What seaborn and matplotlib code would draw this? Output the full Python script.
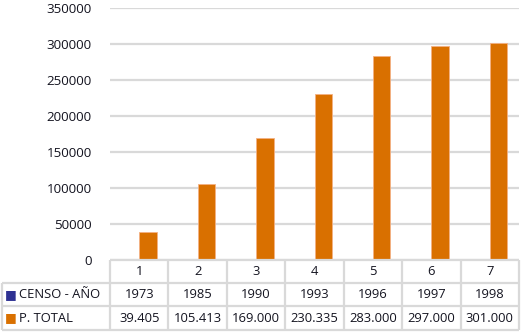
import matplotlib
matplotlib.use("Agg")
import matplotlib.pyplot as plt
import matplotlib.transforms as mtransforms
import numpy as np
import pandas as pd
import seaborn as sns

# datos del grafico
categorias = ["1", "2", "3", "4", "5", "6", "7"]
censo_anio = [1973, 1985, 1990, 1993, 1996, 1997, 1998]
p_total = [39405, 105413, 169000, 230335, 283000, 297000, 301000]
etiquetas_total = ["39.405", "105.413", "169.000", "230.335", "283.000", "297.000", "301.000"]
series = ["CENSO - AÑO", "P. TOTAL"]
colores = ["#2e3192", "#d97000"]

df = pd.DataFrame({
    "categoria": categorias * 2,
    "serie": [series[0]] * 7 + [series[1]] * 7,
    "valor": censo_anio + p_total,
})

sns.set_theme(style="white")
plt.rcParams["font.family"] = ["Open Sans", "DejaVu Sans"]
txt_color = "#141420"
grid_color = "#d9d9d9"

W, H = 524, 334
fig = plt.figure(figsize=(W / 100, H / 100), dpi=100)
# plot area in pixels: x 110..519, y 8..260
ax = fig.add_axes([110 / W, (H - 260) / H, 409 / W, 252 / H])

sns.barplot(data=df, x="categoria", y="valor", hue="serie", hue_order=series,
            palette=colores, width=0.6, gap=0, ax=ax, legend=False,
            edgecolor="#f4b183", linewidth=0.6, saturation=1)

ax.set_ylim(0, 350000)
ax.set_yticks(np.arange(0, 350001, 50000))
ax.set_yticklabels([str(v) for v in range(0, 350001, 50000)], fontsize=9.6, color=txt_color)
ax.tick_params(axis="y", length=0, pad=13)
ax.set_xticks([])
ax.set_xlabel("")
ax.set_ylabel("")
ax.set_xlim(-0.5, 6.5)
for s in ax.spines.values():
    s.set_visible(False)
ax.yaxis.grid(True, color=grid_color, linewidth=1.6)
ax.set_axisbelow(True)

# tabla de datos debajo del grafico
def py(p):
    return (260 - p) / 252

def px(p):
    return (p - 110) / 409

tr = ax.transAxes
bt = mtransforms.blended_transform_factory(ax.transData, ax.transAxes)
lkw = dict(color=grid_color, linewidth=1.6, clip_on=False, solid_capstyle="butt")

ax.plot([0, 1], [py(260), py(260)], transform=tr, **lkw)
for yy in [283, 306, 330]:
    ax.plot([px(2), 1], [py(yy), py(yy)], transform=tr, **lkw)
ax.plot([px(2), px(2)], [py(283), py(330)], transform=tr, **lkw)
for i in range(len(categorias) + 1):
    ax.plot([i - 0.5, i - 0.5], [py(260), py(330)], transform=bt, **lkw)

fs = 9.4
for i, c in enumerate(categorias):
    ax.text(i, py(271.5), c, transform=bt, ha="center", va="center", fontsize=fs, color=txt_color)
    ax.text(i, py(294.5), str(censo_anio[i]), transform=bt, ha="center", va="center", fontsize=fs, color=txt_color)
    ax.text(i, py(318), etiquetas_total[i], transform=bt, ha="center", va="center", fontsize=fs, color=txt_color)

for k, (nombre, col) in enumerate(zip(series, colores)):
    yc = py(294.5 if k == 0 else 318)
    ax.text(px(5), yc, "■", transform=tr, ha="left", va="center", fontsize=9,
            color=col, family="DejaVu Sans")
    ax.text(px(19), yc, nombre, transform=tr, ha="left", va="center", fontsize=fs, color=txt_color)

fig.savefig("out.png", dpi=100)
